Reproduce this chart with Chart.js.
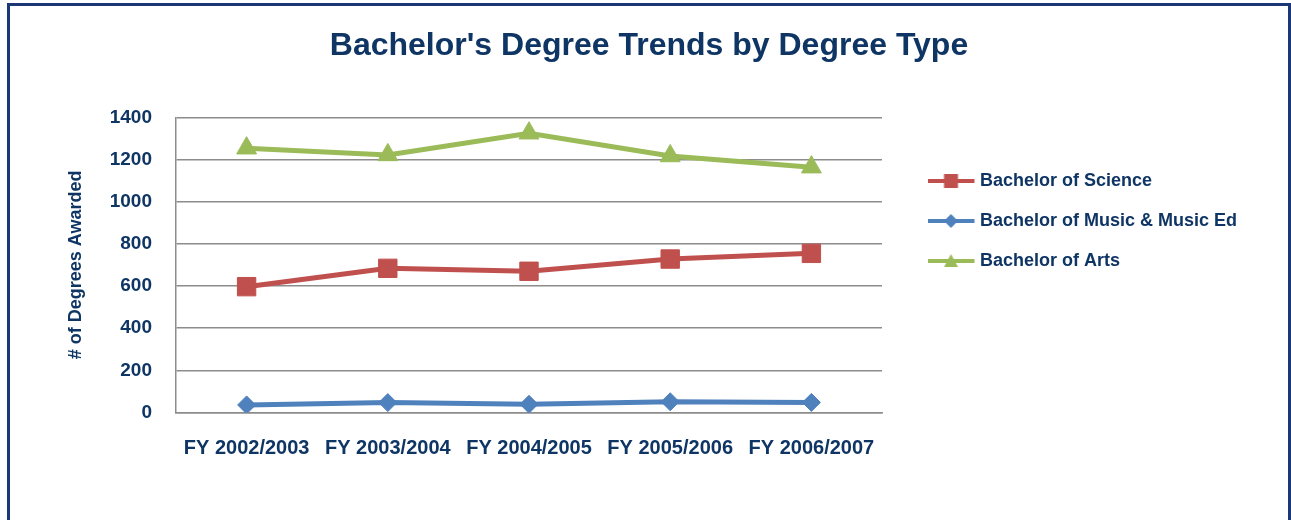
<!DOCTYPE html>
<html>
<head>
<meta charset="utf-8">
<title>Bachelor's Degree Trends</title>
<script src="https://cdn.jsdelivr.net/npm/chart.js@4.4.0/dist/chart.umd.min.js"></script>
<style>
  body { margin: 0; background: #ffffff; }
  #wrap { position: relative; width: 1291px; height: 520px; }
  #frame { position: absolute; left: 7px; top: 3px; width: 1278px; height: 540px;
           border: 3px solid #1c3775; pointer-events: none; }
</style>
</head>
<body>
<div id="wrap">
  <canvas id="degChart" width="1291" height="520"></canvas>
  <div id="frame"></div>
</div>
<script>
// data
var years = ["FY 2002/2003", "FY 2003/2004", "FY 2004/2005", "FY 2005/2006", "FY 2006/2007"];
var science = [597, 684, 670, 728, 755];
var music = [36, 47, 39, 51, 48];
var arts = [1254, 1222, 1325, 1217, 1164];
var yTicks = [0, 200, 400, 600, 800, 1000, 1200, 1400];

var navy = "#0f3564";
var face = "'Liberation Sans', Arial, sans-serif";

// little line + marker pictures for the legend
function legendIcon(color, shape) {
  var c = document.createElement("canvas");
  c.width = 50; c.height = 20;
  var g = c.getContext("2d");
  g.strokeStyle = color;
  g.lineWidth = 4;
  g.beginPath(); g.moveTo(0, 10); g.lineTo(47, 10); g.stroke();
  g.fillStyle = color;
  g.beginPath();
  if (shape == "rect") {
    g.rect(16.5, 3, 14, 14);
  } else if (shape == "diamond") {
    g.moveTo(23.5, 3); g.lineTo(30.5, 10); g.lineTo(23.5, 17); g.lineTo(16.5, 10);
  } else {
    g.moveTo(23.5, 3); g.lineTo(30.5, 16); g.lineTo(16.5, 16);
  }
  g.closePath();
  g.fill();
  return c;
}
var icons = [legendIcon("#c0504d", "rect"), legendIcon("#4f81bd", "diamond"), legendIcon("#9bbb59", "triangle")];

// put the legend block and the title where they sit in the picture
var placeBoxes = {
  id: "placeBoxes",
  afterLayout: function(chart) {
    var lg = chart.legend;
    lg.left = 934 - 22;
    lg.right = 1291;
    lg.top = 172 - 22;
    lg.bottom = 420;
    var t = chart.titleBlock;
    t.left = 7;
    t.right = 1291;
    t.width = t.right - t.left;
  }
};

new Chart(document.getElementById("degChart"), {
  type: "line",
  data: {
    labels: years,
    datasets: [{
      label: "Bachelor of Science",
      data: science,
      borderColor: "#c0504d",
      backgroundColor: "#c0504d",
      borderWidth: 5,
      pointStyle: "rect",
      pointRadius: 13,
      pointBorderWidth: 1
    }, {
      label: "Bachelor of Music & Music Ed",
      data: music,
      borderColor: "#4f81bd",
      backgroundColor: "#4f81bd",
      borderWidth: 5,
      pointStyle: "rectRot",
      pointRadius: 9,
      pointBorderWidth: 1
    }, {
      label: "Bachelor of Arts",
      data: arts,
      borderColor: "#9bbb59",
      backgroundColor: "#9bbb59",
      borderWidth: 5,
      pointStyle: "triangle",
      pointRadius: 11.5,
      pointBorderWidth: 1
    }]
  },
  options: {
    responsive: false,
    animation: false,
    layout: { padding: { left: 0, right: 408, top: 0, bottom: 0 } },
    plugins: {
      title: {
        display: true,
        text: "Bachelor's Degree Trends by Degree Type",
        color: navy,
        font: { family: face, size: 32, weight: "bold" },
        padding: { top: 27, bottom: 52 }
      },
      legend: {
        display: true,
        position: "right",
        align: "start",
        maxWidth: 1,
        labels: {
          usePointStyle: true,
          pointStyleWidth: 37,
          padding: 22,
          color: navy,
          font: { family: face, size: 18, weight: "bold" },
          generateLabels: function(chart) {
            var items = Chart.defaults.plugins.legend.labels.generateLabels(chart);
            items.forEach(function(it, i) { it.pointStyle = icons[i]; });
            return items;
          }
        }
      },
      tooltip: { enabled: false }
    },
    scales: {
      x: {
        offset: true,
        grid: { display: false },
        border: { display: true, color: "#8c8c8c", width: 1.5 },
        ticks: {
          color: navy,
          padding: 16,
          maxRotation: 0,
          autoSkip: false,
          font: { family: face, size: 20, weight: "bold" }
        },
        afterFit: function(s) { s.height = 107.5; }
      },
      y: {
        min: 0,
        max: 1400,
        afterBuildTicks: function(s) { s.ticks = yTicks.map(function(v) { return { value: v }; }); },
        grid: { color: "#8c8c8c", lineWidth: 1.5, drawTicks: false },
        border: { display: true, color: "#8c8c8c", width: 1.5 },
        ticks: {
          color: navy,
          padding: 24,
          font: { family: face, size: 19, weight: "bold" },
          callback: function(v) { return String(v); }
        },
        title: {
          display: true,
          text: "# of Degrees Awarded",
          color: navy,
          padding: { top: 65, bottom: 0 },
          font: { family: face, size: 18, weight: "bold" }
        },
        afterFit: function(s) { s.width = 176; }
      }
    }
  },
  plugins: [placeBoxes]
});
</script>
</body>
</html>
